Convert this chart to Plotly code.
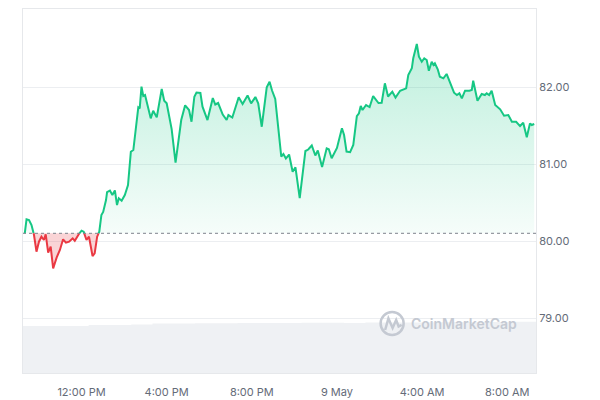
import numpy as np
import pandas as pd
import plotly.graph_objects as go

# ---- data (minutes since 2024-05-08 00:00, price) ----
minutes = [560, 565, 572, 579, 586, 593, 600, 607, 614, 619,
           626, 633, 640, 650, 659, 668, 676, 685, 695, 701,
           710, 720, 726, 734, 741, 751, 757, 764, 770, 776,
           781, 789, 792, 800, 807, 814, 820, 825, 833, 842,
           851, 859, 866, 872, 880, 884, 889, 894, 899, 915,
           922, 932, 946, 953, 960, 974, 985, 1001, 1012, 1023,
           1030, 1038, 1044, 1055, 1061, 1075, 1090, 1097, 1105, 1118,
           1129, 1134, 1145, 1163, 1174, 1188, 1198, 1210, 1218, 1228,
           1242, 1250, 1257, 1266, 1283, 1289, 1296, 1305, 1315, 1323,
           1335, 1351, 1359, 1369, 1379, 1386, 1398, 1411, 1417, 1425,
           1440, 1447, 1454, 1460, 1467, 1477, 1486, 1496, 1502, 1507,
           1512, 1522, 1532, 1542, 1557, 1566, 1575, 1584, 1596, 1605,
           1618, 1635, 1641, 1651, 1655, 1665, 1671, 1679, 1686, 1693,
           1699, 1707, 1712, 1716, 1724, 1730, 1740, 1749, 1759, 1770,
           1778, 1785, 1792, 1801, 1813, 1820, 1824, 1836, 1848, 1857,
           1862, 1869, 1876, 1886, 1900, 1911, 1923, 1933, 1945, 1956,
           1965, 1975, 1984, 1989, 1996]

prices = [80.104, 80.286, 80.277, 80.212, 80.082, 79.865, 79.995, 80.060, 80.017, 80.090,
          79.852, 79.930, 79.649, 79.792, 79.887, 80.026, 79.982, 79.995, 80.039, 80.008,
          80.082, 80.138, 80.125, 80.017, 80.060, 79.809, 79.844, 80.060, 80.125, 80.342,
          80.381, 80.536, 80.640, 80.660, 80.601, 80.662, 80.471, 80.558, 80.527, 80.601,
          80.731, 81.164, 81.186, 81.423, 81.740, 81.727, 82.008, 81.887, 81.900, 81.597,
          81.696, 81.610, 81.978, 81.826, 81.792, 81.458, 81.021, 81.575, 81.766, 81.705,
          81.553, 81.878, 81.932, 81.926, 81.748, 81.575, 81.861, 81.777, 81.796, 81.647,
          81.575, 81.640, 81.608, 81.870, 81.783, 81.894, 81.792, 81.874, 81.792, 81.488,
          82.000, 82.073, 81.958, 81.848, 81.099, 81.134, 81.075, 81.127, 80.904, 80.961,
          80.562, 81.173, 81.192, 81.244, 81.114, 81.179, 80.965, 81.208, 81.195, 81.078,
          81.212, 81.342, 81.468, 81.381, 81.166, 81.157, 81.251, 81.627, 81.662, 81.757,
          81.705, 81.770, 81.744, 81.887, 81.796, 81.800, 82.052, 81.881, 81.943, 81.868,
          81.956, 81.987, 82.160, 82.247, 82.377, 82.562, 82.397, 82.332, 82.377, 82.355,
          82.216, 82.332, 82.290, 82.312, 82.234, 82.138, 82.117, 82.173, 82.052, 81.930,
          81.900, 81.922, 81.857, 81.956, 81.956, 81.965, 82.086, 81.826, 81.913, 81.900,
          81.922, 81.900, 81.956, 81.770, 81.714, 81.631, 81.640, 81.553, 81.553, 81.497,
          81.540, 81.351, 81.532, 81.510, 81.523]

vol_minutes = [555, 620, 680, 740, 800, 860, 920, 980, 1040, 1100, 1160, 1220, 1280,
               1340, 1400, 1460, 1520, 1580, 1640, 1700, 1760, 1820, 1880, 1940, 2001]
volumes = [1.291, 1.291, 1.291, 1.319, 1.319, 1.332, 1.360, 1.360, 1.365, 1.365, 1.374, 1.374, 1.374,
           1.379, 1.379, 1.374, 1.387, 1.387, 1.387, 1.393, 1.401, 1.401, 1.401, 1.407, 1.407]

tick_minutes = [720, 960, 1200, 1440, 1680, 1920]
tick_labels = ["12:00 PM", "4:00 PM", "8:00 PM", "9 May", "4:00 AM", "8:00 AM"]
y_ticks = [79, 80, 81, 82]

assert len(minutes) == len(prices)

DAY0 = pd.Timestamp("2024-05-08")


def to_dt(m):
    return None if m is None else DAY0 + pd.Timedelta(minutes=float(m))


base = prices[0]

# split into above/below baseline with crossing points
up_t, up_y, dn_t, dn_y = [], [], [], []
all_t, all_y = [], []
for i in range(len(minutes)):
    if i > 0:
        a, b = prices[i - 1] - base, prices[i] - base
        if a * b < 0:
            tc = minutes[i - 1] + (minutes[i] - minutes[i - 1]) * a / (a - b)
            up_t.append(tc); up_y.append(base)
            dn_t.append(tc); dn_y.append(base)
            all_t.append(tc); all_y.append(base)
            if a > 0:
                up_t.append(None); up_y.append(None)
            else:
                dn_t.append(None); dn_y.append(None)
    if prices[i] >= base:
        up_t.append(minutes[i]); up_y.append(prices[i])
    else:
        dn_t.append(minutes[i]); dn_y.append(prices[i])
    all_t.append(minutes[i]); all_y.append(prices[i])

all_x = [to_dt(m) for m in all_t]
green_fill_y = [max(v, base) for v in all_y]
red_fill_y = [min(v, base) for v in all_y]
base_x = [to_dt(minutes[0]), to_dt(minutes[-1])]

GREEN = "#16c784"
RED = "#ea3943"

fig = go.Figure()

# volume area (secondary axis)
fig.add_trace(go.Scatter(x=[to_dt(m) for m in vol_minutes], y=volumes, yaxis="y2",
                         mode="lines", line=dict(width=0, shape="hv"), fill="tozeroy",
                         fillcolor="#eff1f4", hoverinfo="skip", showlegend=False))

# green fill
fig.add_trace(go.Scatter(x=base_x, y=[base, base], mode="lines", line=dict(width=0),
                         hoverinfo="skip", showlegend=False))
fig.add_trace(go.Scatter(x=all_x, y=green_fill_y, mode="lines", line=dict(width=0),
                         fill="tonexty",
                         fillgradient=dict(type="vertical", start=base, stop=max(prices),
                                           colorscale=[[0, "rgba(22,199,132,0.04)"],
                                                       [1, "rgba(22,199,132,0.28)"]]),
                         hoverinfo="skip", showlegend=False))
# red fill
fig.add_trace(go.Scatter(x=base_x, y=[base, base], mode="lines", line=dict(width=0),
                         hoverinfo="skip", showlegend=False))
fig.add_trace(go.Scatter(x=all_x, y=red_fill_y, mode="lines", line=dict(width=0),
                         fill="tonexty", fillcolor="rgba(234,57,67,0.22)",
                         hoverinfo="skip", showlegend=False))

# lines
fig.add_trace(go.Scatter(x=[to_dt(m) for m in up_t], y=up_y, mode="lines",
                         line=dict(color=GREEN, width=2), connectgaps=False, showlegend=False))
fig.add_trace(go.Scatter(x=[to_dt(m) for m in dn_t], y=dn_y, mode="lines",
                         line=dict(color=RED, width=2), connectgaps=False, showlegend=False))

# baseline dotted line
fig.add_shape(type="line", xref="paper", x0=0, x1=1, yref="y", y0=base, y1=base,
              line=dict(color="#7d828c", width=1, dash="dot"))

# watermark (paper coords from window pixel positions)
L, R, T, B = 23.3, 535.7, 9, 373


def px(x):
    return (x - L) / (R - L)


def py(y):
    return (B - y) / (B - T)


wm = "#c4c9d2"
fig.add_shape(type="circle", xref="paper", yref="paper",
              x0=px(380.5), x1=px(403.5), y0=py(335), y1=py(312),
              line=dict(color=wm, width=2.5))
pts = [(385, 330), (388.3, 318.5), (392.5, 328), (396, 320), (398.5, 326.5), (401.5, 325)]
path = "M " + " L ".join(f"{px(a):.4f},{py(b):.4f}" for a, b in pts)
fig.add_shape(type="path", xref="paper", yref="paper", path=path,
              line=dict(color=wm, width=2.5))
fig.add_annotation(xref="paper", yref="paper", x=px(409), y=py(323.5), xanchor="left",
                   yanchor="middle", showarrow=False, text="CoinMarketCap",
                   font=dict(family="Inter", size=14, color=wm, weight=600))

# page body has an 8px margin: figure is 592x392 so it fits the 600x400 window
fig.update_layout(
    width=592, height=392,
    margin=dict(l=15, r=64, t=1, b=27, autoexpand=False),
    paper_bgcolor="white", plot_bgcolor="white",
    font=dict(family="Inter", size=11, color="#646b78"),
    xaxis=dict(range=[to_dt(555), to_dt(2001)], tickvals=[to_dt(m) for m in tick_minutes],
               ticktext=tick_labels, showgrid=False, zeroline=False,
               showline=True, mirror=True, linecolor="#e6e8eb", linewidth=1,
               ticks="", ticklabelstandoff=9, automargin=False),
    yaxis=dict(range=[78.29, 83.017], side="right", tickvals=y_ticks,
               ticktext=[f"{v:.2f}" for v in y_ticks],
               showgrid=True, gridcolor="#eceef1", gridwidth=1, zeroline=False,
               showline=True, mirror=True, linecolor="#e6e8eb", linewidth=1,
               ticks="", ticklabelstandoff=0, automargin=False),
    yaxis2=dict(overlaying="y", range=[0, 10], visible=False),
    showlegend=False,
)

fig.write_html("out.html")
